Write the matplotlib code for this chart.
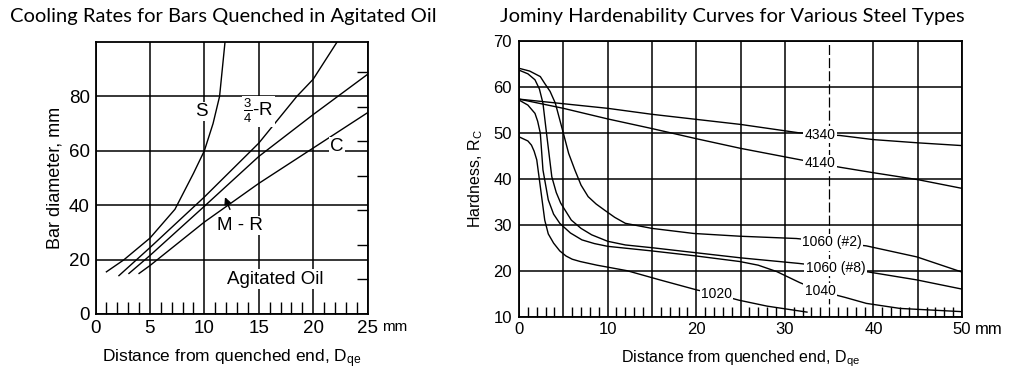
import numpy as np
import matplotlib
matplotlib.use("Agg")
import matplotlib.pyplot as plt

plt.rcParams['font.family'] = ['Liberation Sans', 'DejaVu Sans']
plt.rcParams['mathtext.fontset'] = 'custom'
plt.rcParams['mathtext.rm'] = 'Liberation Sans'
plt.rcParams['mathtext.it'] = 'Liberation Sans'

# ---------------- Left chart data: bar diameter vs Jominy distance ----------
s_x = [1.0, 2.6, 5.0, 7.3, 9.0, 10.0, 10.8, 11.4, 11.65, 11.9]
s_y = [15.5, 19.9, 27.9, 38.5, 51.7, 60.0, 70.0, 80.0, 90.0, 100.0]
r34_x = [2.15, 5.0, 10.0, 15.0, 18.5, 20.0, 22.2]
r34_y = [14.1, 24.4, 43.0, 62.8, 80.0, 86.3, 100.0]
mr_x = [3.07, 5.0, 10.0, 15.0, 20.0, 25.0]
mr_y = [14.9, 21.5, 39.6, 57.9, 73.3, 88.1]
c_x = [4.0, 5.0, 10.0, 15.0, 20.0, 25.0]
c_y = [14.9, 17.8, 33.8, 48.0, 61.0, 74.0]
left_xticks = [0, 5, 10, 15, 20, 25]
left_yticks = [0, 20, 40, 60, 80]

# ---------------- Right chart data: Jominy hardenability ----------------------
h4340_x = [0, 10, 15, 20, 25, 31.5, 34, 36.2, 40, 45, 50]
h4340_y = [57.3, 55.3, 54.0, 52.9, 51.8, 50.0, 49.6, 49.4, 48.5, 47.8, 47.2]
h4140_x = [0, 5, 10, 15, 20, 25, 31.5, 34, 36.2, 40, 45, 50]
h4140_y = [57.3, 55.3, 53.0, 50.9, 48.7, 46.6, 44.2, 43.3, 42.5, 41.3, 39.8, 37.9]
h1060a_x = [0, 1.2, 2.4, 2.9, 3.5, 4.1, 5.0, 5.6, 6.3, 7.0, 7.8, 8.7, 9.7, 10.8, 12, 15, 19.7, 24.9, 31.3, 35.3, 39.2, 44.9, 50]
h1060a_y = [64.0, 63.4, 62.2, 60.7, 59.0, 56.4, 49.9, 45.5, 41.9, 38.6, 36.1, 34.5, 33.1, 31.6, 30.3, 29.2, 28.1, 27.5, 27.0, 26.2, 25.4, 23.0, 19.7]
h1060b_x = [0, 1.0, 1.8, 2.3, 2.7, 3.1, 3.7, 4.2, 4.7, 5.9, 7.0, 8.2, 10, 12, 15, 20, 25, 31.5, 35.7, 39.2, 44.9, 50]
h1060b_y = [63.6, 62.8, 61.5, 59.5, 56.4, 49.9, 40.4, 37.0, 34.7, 31.0, 29.2, 27.8, 26.4, 25.6, 25.0, 23.9, 22.8, 21.6, 20.7, 19.8, 18.0, 16.0]
h1040_x = [0, 1.0, 1.8, 2.1, 2.4, 2.7, 3.3, 3.9, 4.6, 5.8, 7.1, 8.5, 10, 12, 15, 20, 24.9, 27, 29.1, 31.7, 34, 36.8, 39.2, 43, 50]
h1040_y = [57.1, 56.0, 54.2, 52.5, 49.9, 41.9, 35.4, 32.3, 30.3, 28.2, 26.7, 25.9, 25.3, 24.9, 24.3, 23.2, 22.0, 21.2, 19.8, 17.4, 15.6, 14.2, 12.9, 11.8, 11.1]
h1020_x = [0, 1.0, 1.4, 1.7, 2.0, 2.4, 2.9, 3.3, 3.9, 4.6, 5.3, 6.0, 6.9, 8.8, 12.2, 15.9, 20.1, 22.3, 24.8, 28, 32.5]
h1020_y = [49.1, 48.2, 47.3, 46.0, 44.1, 38.3, 31.0, 28.0, 26.0, 24.3, 23.2, 22.5, 22.0, 21.2, 20.0, 18.0, 15.8, 14.9, 13.6, 12.3, 11.0]
right_xticks = [0, 10, 20, 30, 40, 50]
right_yticks = [10, 20, 30, 40, 50, 60, 70]

fig = plt.figure(figsize=(10.10, 3.69), dpi=100)
fig.patch.set_facecolor('white')

LW = 1.0
GRID_LW = 1.1
lbl_box = dict(facecolor='white', edgecolor='none', pad=1.0)

# ============================ LEFT =========================================
ax1 = fig.add_axes([0.0946, 0.1491, 0.2693, 0.7371])
ax1.set_xlim(0, 25)
ax1.set_ylim(0, 100)
for c in ax1.spines.values():
    c.set_linewidth(1.3)
ax1.set_xticks(left_xticks)
ax1.set_yticks(left_yticks)
ax1.set_xticks([v for v in range(1, 25) if v % 5], minor=True)
ax1.set_yticks([12.7 * k for k in range(1, 8)], minor=True)
ax1.tick_params(which='major', length=0, labelsize=13.5)
ax1.tick_params(axis='x', which='major', pad=4)
ax1.tick_params(axis='y', which='major', pad=4)
ax1.tick_params(axis='x', which='minor', direction='in', length=9, width=1.0, bottom=True, top=False)
ax1.tick_params(axis='y', which='minor', direction='in', length=8, width=1.0, left=False, right=True)
ax1.grid(True, which='major', color='black', linewidth=GRID_LW)
ax1.set_axisbelow(True)

for xs, ys in [(s_x, s_y), (r34_x, r34_y), (mr_x, mr_y), (c_x, c_y)]:
    ax1.plot(xs, ys, color='black', lw=LW, zorder=3)

ax1.text(9.75, 74.5, 'S', fontsize=13.5, ha='center', va='center', bbox=lbl_box, zorder=5)
ax1.text(15.0, 74.5, r'$\frac{3}{4}$' + '-R', fontsize=13.5, ha='center', va='center', bbox=lbl_box, zorder=5)
ax1.text(22.2, 61.6, 'C', fontsize=13.5, ha='center', va='center', bbox=lbl_box, zorder=5)
ax1.text(13.3, 32.6, 'M - R', fontsize=13.5, ha='center', va='center', bbox=lbl_box, zorder=5)
ax1.text(16.5, 12.8, 'Agitated Oil', fontsize=13.5, ha='center', va='center', bbox=lbl_box, zorder=5)
ax1.annotate('', xy=(11.8, 43.9), xytext=(12.45, 37.5),
             arrowprops=dict(arrowstyle='-|>', color='black', lw=1.0, mutation_scale=10), zorder=6)

ax1.text(1.052, -0.022, 'mm', transform=ax1.transAxes, fontsize=11, ha='left', va='top')
ax1.set_xlabel(r'Distance from quenched end, D$_{\mathrm{qe}}$', fontsize=12.5, labelpad=8)
ax1.set_ylabel('Bar diameter, mm', fontsize=13, labelpad=4)

# ============================ RIGHT ========================================
ax2 = fig.add_axes([0.5139, 0.1417, 0.4386, 0.748])
ax2.set_xlim(0, 50)
ax2.set_ylim(10, 70)
for c in ax2.spines.values():
    c.set_linewidth(1.3)
ax2.set_xticks(list(range(0, 51, 5)))
ax2.set_xticklabels([str(v) if v in right_xticks else '' for v in range(0, 51, 5)])
ax2.set_yticks(right_yticks)
ax2.set_xticks([v for v in range(1, 50) if v % 5], minor=True)
ax2.tick_params(which='major', length=0, labelsize=12)
ax2.tick_params(axis='x', which='major', pad=4)
ax2.tick_params(axis='y', which='major', pad=5)
ax2.tick_params(axis='x', which='minor', direction='in', length=7, width=1.0)
ax2.grid(True, which='major', color='black', linewidth=GRID_LW)
for gl, v in zip(ax2.get_xgridlines(), range(0, 51, 5)):
    if v == 35:
        gl.set_linestyle((0, (8, 2.5)))
        gl.set_linewidth(0.9)
ax2.set_axisbelow(True)

for xs, ys in [(h4340_x, h4340_y), (h4140_x, h4140_y), (h1060a_x, h1060a_y),
               (h1060b_x, h1060b_y), (h1040_x, h1040_y), (h1020_x, h1020_y)]:
    ax2.plot(xs, ys, color='black', lw=LW, zorder=3)

lab_fs = 10
ax2.text(34.0, 49.6, '4340', fontsize=lab_fs, ha='center', va='center', bbox=lbl_box, zorder=5)
ax2.text(34.0, 43.4, '4140', fontsize=lab_fs, ha='center', va='center', bbox=lbl_box, zorder=5)
ax2.text(35.3, 26.2, '1060 (#2)', fontsize=lab_fs, ha='center', va='center', bbox=lbl_box, zorder=5)
ax2.text(35.7, 20.65, '1060 (#8)', fontsize=lab_fs, ha='center', va='center', bbox=lbl_box, zorder=5)
ax2.text(34.0, 15.6, '1040', fontsize=lab_fs, ha='center', va='center', bbox=lbl_box, zorder=5)
ax2.text(22.3, 14.9, '1020', fontsize=lab_fs, ha='center', va='center', bbox=lbl_box, zorder=5)

ax2.text(1.03, -0.018, 'mm', transform=ax2.transAxes, fontsize=12, ha='left', va='top')
ax2.set_xlabel(r'Distance from quenched end, D$_{\mathrm{qe}}$', fontsize=11.5, labelpad=8)
ax2.set_ylabel(r'Hardness, R$_{\mathrm{C}}$', fontsize=11.5, labelpad=6)

# ============================ TITLES =======================================
fig.text(10 / 1010, 1 - 21.7 / 369, 'Cooling Rates for Bars Quenched in Agitated Oil',
         family='Lato', fontsize=14.5, ha='left', va='baseline')
fig.text(500 / 1010, 1 - 21.7 / 369, 'Jominy Hardenability Curves for Various Steel Types',
         family='Lato', fontsize=14.5, ha='left', va='baseline')

fig.savefig('out.png', dpi=100, facecolor='white')
